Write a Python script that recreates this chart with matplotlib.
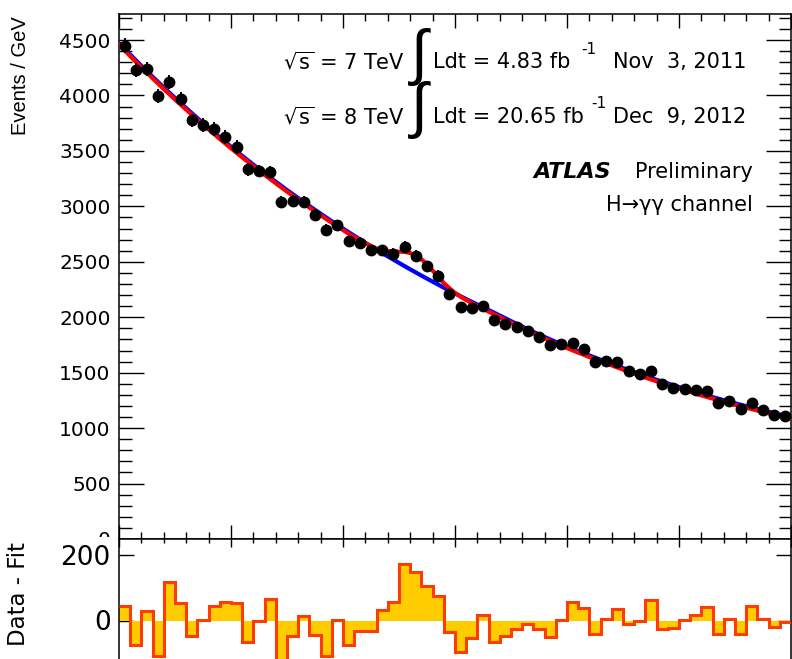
import numpy as np
import matplotlib
matplotlib.use("Agg")
import matplotlib.pyplot as plt
from matplotlib.patches import Rectangle
from matplotlib.ticker import MultipleLocator, NullLocator, NullFormatter, FixedLocator

plt.rcParams['font.family'] = ['DejaVu Sans']
plt.rcParams['mathtext.fontset'] = 'dejavusans'

# ---------------- data ----------------
bin_edges_lo = 100
bin_edges_hi = 160
mass = [100.5 + i for i in range(60)]
data = [4450, 4230, 4240, 3995, 4125, 3965, 3775, 3735, 3700, 3625,
        3535, 3335, 3320, 3310, 3040, 3050, 3040, 2918, 2790, 2828,
        2685, 2670, 2603, 2605, 2570, 2638, 2556, 2462, 2375, 2212,
        2092, 2084, 2100, 1975, 1943, 1915, 1880, 1819, 1748, 1759,
        1772, 1712, 1595, 1602, 1596, 1512, 1486, 1517, 1395, 1365,
        1357, 1340, 1335, 1224, 1243, 1169, 1231, 1165, 1116, 1106]
residual = [45, -75, 28, -108, 118, 53, -49, 2, 45, 57,
            53, -66, -1, 66, -140, -49, 14, -43, -108, 2,
            -74, -31, -31, 33, 58, 173, 148, 105, 74, -35,
            -97, -55, 17, -66, -47, -25, -12, -26, -52, 2,
            57, 37, -41, 4, 36, -12, -2, 64, -25, -22,
            2, 16, 41, -42, 5, -42, 46, 5, -19, -4]

bkg_mass = list(range(100, 161))
bkg_fit = [4472, 4369, 4268, 4169, 4072, 3978, 3886, 3796, 3708, 3622,
           3538, 3456, 3376, 3298, 3222, 3147, 3075, 3003, 2934, 2866,
           2800, 2735, 2671, 2609, 2549, 2490, 2432, 2376, 2321, 2267,
           2215, 2164, 2114, 2065, 2016, 1965, 1916, 1868, 1822, 1778,
           1736, 1695, 1655, 1617, 1579, 1542, 1506, 1470, 1436, 1403,
           1371, 1340, 1309, 1280, 1252, 1224, 1198, 1172, 1147, 1122, 1097]

sb_mass = (list(range(100, 120)) +
           [120, 120.5, 121, 121.5, 122, 122.5, 123, 123.5, 124, 124.5,
            125, 125.5, 126, 126.5, 127, 127.5, 128, 128.5, 129, 129.5,
            130, 130.5, 131, 131.5, 132, 133, 134] +
           list(range(135, 161)))
sb_fit = ([4458, 4355, 4254, 4155, 4058, 3964, 3872, 3782, 3694, 3608,
           3524, 3442, 3362, 3284, 3208, 3133, 3061, 2989, 2920, 2852] +
          [2786, 2753, 2723, 2695, 2668, 2642, 2620, 2605, 2597, 2594,
           2592, 2590, 2579, 2558, 2523, 2478, 2421, 2364, 2309, 2262,
           2220, 2185, 2155, 2127, 2101, 2051, 2002] +
          [1951, 1902, 1854, 1808, 1764, 1722, 1681, 1641, 1603, 1565,
           1528, 1492, 1456, 1422, 1389, 1357, 1326, 1295, 1266, 1238,
           1210, 1184, 1158, 1133, 1108, 1083])

# ---------------- figure ----------------
W, H = 792, 659
fig = plt.figure(figsize=(W / 100, H / 100), dpi=100)

def fx(px):
    return px / W

def fy(py):
    return 1 - py / H

left, right = 119, 791
top_y0, top_y1 = 14, 539
ax = fig.add_axes([fx(left), fy(top_y1), fx(right - left), (top_y1 - top_y0) / H])
ax.set_zorder(1)
bot_y0, bot_y1 = 539, 702
ax2 = fig.add_axes([fx(left), fy(bot_y1), fx(right - left), (bot_y1 - bot_y0) / H])
ax2.set_zorder(2)

# top panel
ax.plot(bkg_mass, bkg_fit, color='#0000ff', lw=3.0, zorder=3)
ax.plot(sb_mass, sb_fit, color='#ff0000', lw=3.0, zorder=4)
err = np.sqrt(np.array(data, dtype=float))
ax.errorbar(mass, data, yerr=err, fmt='o', color='black', ms=7.5,
            elinewidth=1.4, capsize=0, zorder=5)

ax.set_xlim(bin_edges_lo, bin_edges_hi)
ax.set_ylim(0, 4735)
ax.xaxis.set_major_locator(MultipleLocator(10))
ax.xaxis.set_minor_locator(MultipleLocator(2))
ax.yaxis.set_major_locator(MultipleLocator(500))
ax.yaxis.set_minor_locator(MultipleLocator(100))
ax.xaxis.set_major_formatter(NullFormatter())
ax.tick_params(axis='x', which='major', direction='in', top=True, bottom=True,
               length=10, width=1.0)
ax.tick_params(axis='x', which='minor', direction='in', top=True, bottom=True,
               length=5, width=1.0)
ax.tick_params(axis='y', which='major', direction='in', left=True, right=True,
               length=18, width=1.0, labelsize=14.5, pad=6)
ax.tick_params(axis='y', which='minor', direction='in', left=True, right=True,
               length=9, width=1.0)
for s in ax.spines.values():
    s.set_linewidth(1.1)
ax.set_ylabel('Events / GeV', fontsize=14.5, family=['Liberation Sans', 'DejaVu Sans'])
ax.yaxis.set_label_coords(fx(30 - left) / fx(right - left), (539 - 76) / (539 - 14))

# text block
fs = 15
fig.text(fx(283), fy(62), r'$\sqrt{\mathrm{s}}$ = 7 TeV', fontsize=fs, va='center', ha='left')
fig.text(fx(283), fy(117), r'$\sqrt{\mathrm{s}}$ = 8 TeV', fontsize=fs, va='center', ha='left')
fig.text(fx(419), fy(57), '∫', fontsize=44, va='center', ha='center',
         family=['Liberation Sans', 'DejaVu Sans'])
fig.text(fx(419), fy(110), '∫', fontsize=44, va='center', ha='center',
         family=['Liberation Sans', 'DejaVu Sans'])
fig.text(fx(433), fy(62), 'Ldt = 4.83 fb', fontsize=fs, va='center', ha='left')
fig.text(fx(581), fy(49), '-1', fontsize=11, va='center', ha='left')
fig.text(fx(613), fy(62), 'Nov  3, 2011', fontsize=fs, va='center', ha='left')
fig.text(fx(433), fy(117), 'Ldt = 20.65 fb', fontsize=fs, va='center', ha='left')
fig.text(fx(591), fy(104), '-1', fontsize=11, va='center', ha='left')
fig.text(fx(613), fy(117), 'Dec  9, 2012', fontsize=fs, va='center', ha='left')
fig.text(fx(533), fy(172), 'ATLAS', fontsize=fs + 1, fontweight='bold', fontstyle='italic',
         va='center', ha='left')
fig.text(fx(753), fy(172), 'Preliminary', fontsize=fs, va='center', ha='right')
fig.text(fx(753), fy(205), 'H→γγ channel', fontsize=fs, va='center', ha='right')

# mask partially hidden "0" label of the top panel
fig.add_artist(Rectangle((0, 0), fx(left - 1), fy(537), transform=fig.transFigure,
                         facecolor='white', edgecolor='none', zorder=1.5))

# bottom panel
edges = [bin_edges_lo + i for i in range(61)]
res_arr = np.array(residual, dtype=float)
ax2.stairs(res_arr, edges, baseline=0, fill=True, color='#ffcc00', zorder=2)
ax2.stairs(res_arr, edges, baseline=None, fill=False, color='#ff3c00', lw=2.2, zorder=3)
ax2.set_xlim(bin_edges_lo, bin_edges_hi)
ax2.set_ylim(-250, 250)
ax2.xaxis.set_major_locator(MultipleLocator(10))
ax2.xaxis.set_minor_locator(MultipleLocator(2))
ax2.xaxis.set_major_formatter(NullFormatter())
ax2.yaxis.set_major_locator(FixedLocator([0, 200]))
ax2.yaxis.set_minor_locator(NullLocator())
ax2.tick_params(axis='x', which='major', direction='in', top=True, bottom=True,
                length=6, width=1.0)
ax2.tick_params(axis='x', which='minor', direction='in', top=True, bottom=True,
                length=3, width=1.0)
ax2.tick_params(axis='y', which='major', direction='in', left=True, right=True,
                length=11, width=1.0, labelsize=19, pad=6)
for s in ax2.spines.values():
    s.set_linewidth(1.1)
ax2.set_ylabel('Data - Fit', fontsize=16.5)
ax2.yaxis.set_label_coords(fx(30 - left) / fx(right - left), (702 - 594) / (702 - 539))

fig.savefig('out.png', dpi=100)
